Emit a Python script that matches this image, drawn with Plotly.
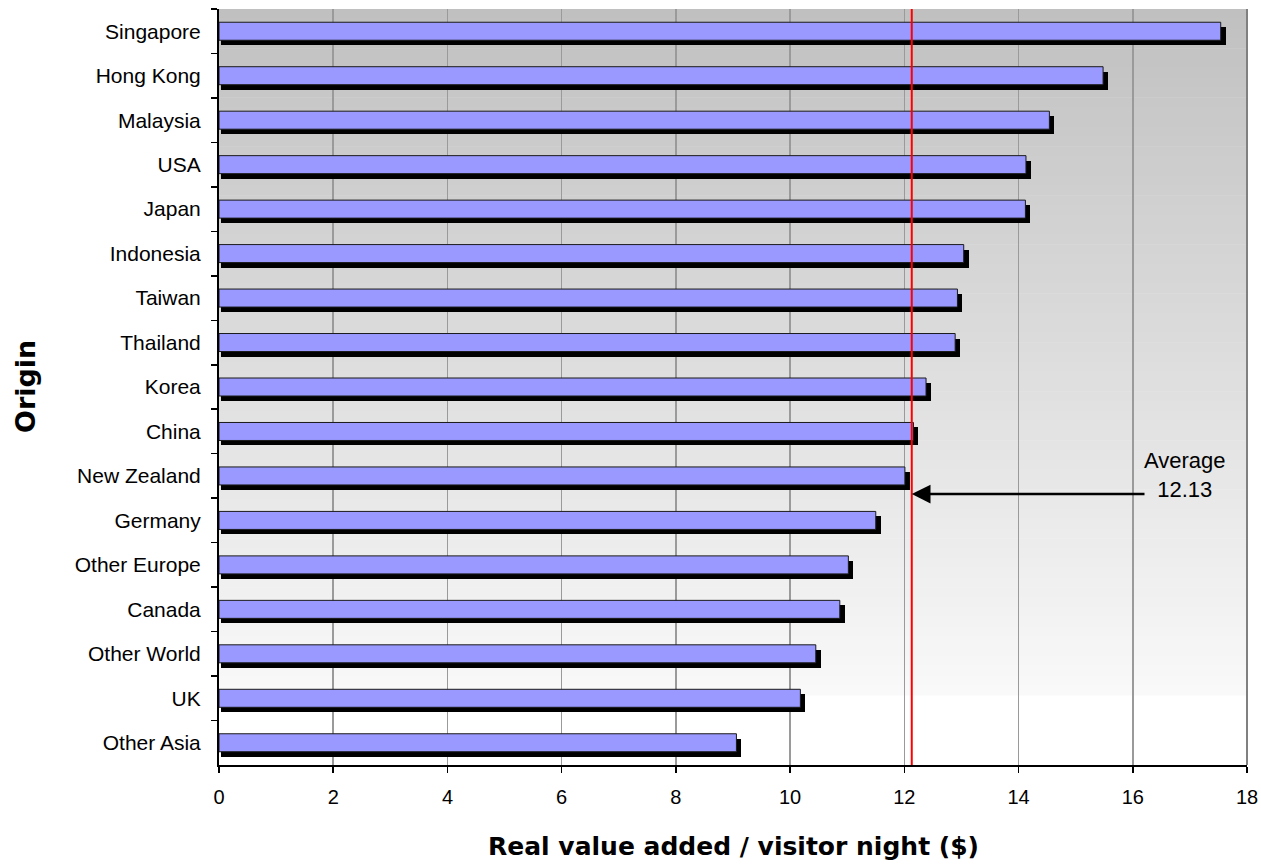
import plotly.graph_objects as go

categories = ["Singapore", "Hong Kong", "Malaysia", "USA", "Japan", "Indonesia",
              "Taiwan", "Thailand", "Korea", "China", "New Zealand", "Germany",
              "Other Europe", "Canada", "Other World", "UK", "Other Asia"]
values = [17.54, 15.48, 14.54, 14.13, 14.12, 13.04, 12.93, 12.89, 12.38, 12.16,
          12.01, 11.50, 11.02, 10.87, 10.45, 10.18, 9.06]
average = 12.13
x_ticks = [0, 2, 4, 6, 8, 10, 12, 14, 16, 18]

W, H = 1261, 865
# plot area in page pixels
PX0, PX1, PY0, PY1 = 219, 1247, 9, 765
L, R, T, B = PX0, W - PX1, PY0, H - PY1
plot_h = PY1 - PY0
plot_w = PX1 - PX0
n = len(categories)
cat_px = plot_h / n
x_px = plot_w / 18.0

bar_w = 18 / cat_px
shadow_dy = 5 / cat_px

fig = go.Figure()

# shadow
fig.add_trace(go.Bar(
    y=categories, x=[v + 3.0 / x_px for v in values], base=2.0 / x_px,
    orientation="h", width=bar_w, offset=-bar_w / 2 + shadow_dy,
    marker=dict(color="black", line=dict(width=0)),
    hoverinfo="skip", showlegend=False))

# bars
fig.add_trace(go.Bar(
    y=categories, x=values, orientation="h", width=bar_w, offset=-bar_w / 2,
    marker=dict(color="#9999ff", line=dict(color="#1a1a1a", width=1)),
    showlegend=False))


def py_to_paper(py):
    return 1 - (py - PY0) / plot_h


def px_to_x(px):
    return (px - PX0) / x_px


def py_to_cat(py):
    return (py - PY0) / cat_px - 0.5


shapes = []
# gradient background bands
grad_top_px = PY0
grad_bot_px = 695
nb = 70
for i in range(nb):
    y0 = grad_top_px + (grad_bot_px - grad_top_px) * i / nb
    y1 = grad_top_px + (grad_bot_px - grad_top_px) * (i + 1) / nb + 0.6
    g = int(round(192 + (249 - 192) * (i + 0.5) / nb))
    shapes.append(dict(type="rect", xref="paper", yref="paper",
                       x0=0, x1=1, y0=py_to_paper(y1), y1=py_to_paper(y0),
                       fillcolor=f"rgb({g},{g},{g})", line=dict(width=0),
                       layer="below"))
# right border
shapes.append(dict(type="line", xref="paper", yref="paper", x0=1, x1=1, y0=0, y1=1,
                   line=dict(color="#808080", width=2), layer="above"))
# average line
shapes.append(dict(type="line", xref="x", yref="paper", x0=average, x1=average,
                   y0=0, y1=1, line=dict(color="#ff0000", width=2), layer="above"))

tick_font = dict(family="Liberation Sans, Arial, sans-serif", size=20, color="black")
xtitle_font = dict(family="DejaVu Sans, sans-serif", size=25, color="black", weight="bold")
ytitle_font = dict(family="DejaVu Sans, sans-serif", size=27, color="black", weight="bold")

annotations = [
    dict(x=px_to_x(1185), y=py_to_cat(475), xref="x", yref="y",
         text="Average<br>12.13", showarrow=False,
         font=dict(family="Liberation Sans, Arial, sans-serif", size=22, color="black"),
         xanchor="center", yanchor="middle", align="center"),
    dict(x=average, y=py_to_cat(494), xref="x", yref="y",
         ax=px_to_x(1146), ay=py_to_cat(494), axref="x", ayref="y",
         text="", showarrow=True, arrowhead=2, arrowsize=1.5, arrowwidth=2.5,
         arrowcolor="black", standoff=0),
    dict(x=0.5, y=py_to_paper(846), xref="paper", yref="paper",
         text="Real value added / visitor night ($)", showarrow=False,
         font=xtitle_font, xanchor="center", yanchor="middle"),
    dict(x=(25 - PX0) / plot_w, y=0.5, xref="paper", yref="paper",
         text="Origin", showarrow=False, textangle=-90,
         font=ytitle_font, xanchor="center", yanchor="middle"),
]

fig.update_layout(
    width=W, height=H, autosize=False,
    margin=dict(l=L, r=R, t=T, b=B, pad=0, autoexpand=False),
    paper_bgcolor="white", plot_bgcolor="white",
    barmode="overlay", bargap=0,
    shapes=shapes, annotations=annotations,
    xaxis=dict(range=[0, 18], tickvals=x_ticks, ticktext=[str(t) for t in x_ticks],
               showgrid=True, gridcolor="#9a9a9a", gridwidth=1.5, zeroline=False,
               showline=True, linecolor="black", linewidth=2,
               ticks="outside", ticklen=6, tickcolor="black", tickwidth=1.5,
               tickfont=tick_font, ticklabelstandoff=7, ticklabeloverflow="allow",
               automargin=False, fixedrange=True),
    yaxis=dict(type="category", categoryorder="array", categoryarray=categories,
               range=[n - 0.5, -0.5], showgrid=False, zeroline=False,
               showline=True, linecolor="black", linewidth=2,
               ticks="outside", ticklen=6, tickcolor="black", tickwidth=1.5,
               tickson="boundaries", tickfont=dict(tick_font, size=21),
               ticklabelstandoff=12, automargin=False, fixedrange=True),
)

fig.write_html(
    "out.html",
    config={"responsive": False, "displayModeBar": False, "staticPlot": True},
    post_script="document.documentElement.style.margin='0';"
                "document.body.style.margin='0';"
                "document.body.style.overflow='hidden';",
)
